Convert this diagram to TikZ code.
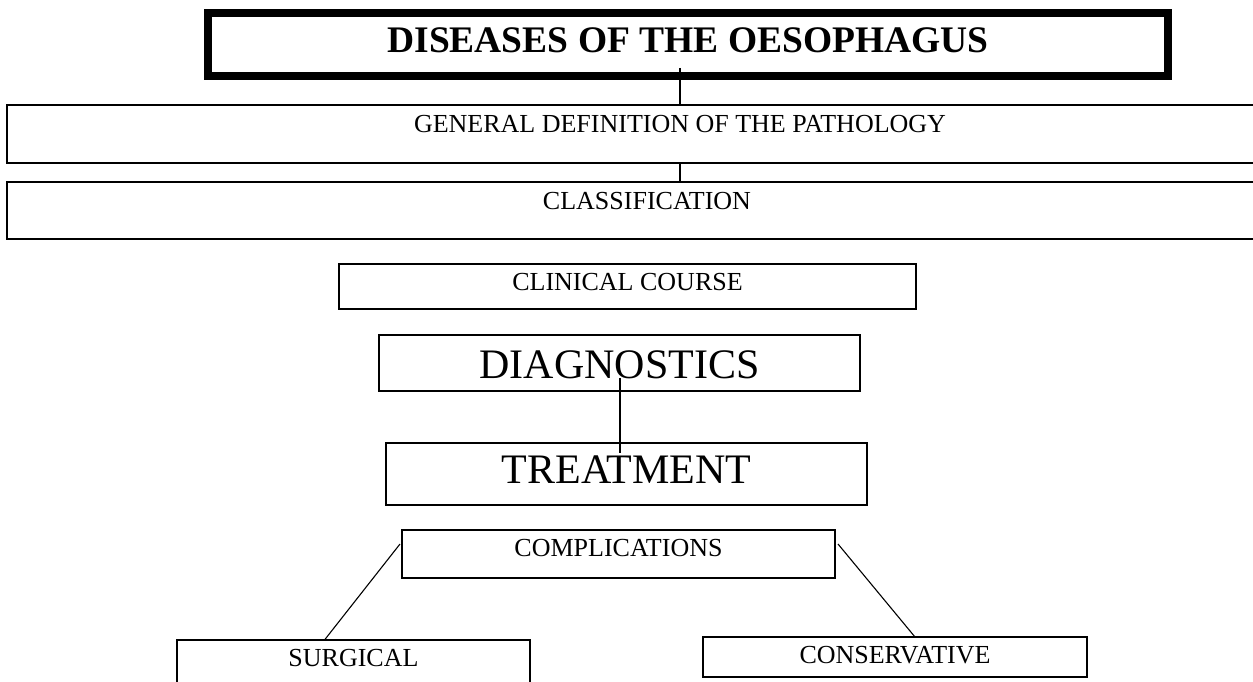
\documentclass[tikz,border=0pt]{standalone}
\usepackage{fontspec}
\setmainfont{Liberation Serif}
\usetikzlibrary{calc}

\tikzset{
  box/.style={draw, rectangle, line width=1.2pt, inner sep=0pt, outer sep=0pt,
    anchor=north west, align=center, font=\fontsize{26}{28}\selectfont},
  bigbox/.style={box, font=\fontsize{42}{44}\selectfont},
  titlebox/.style={box, line width=8pt, font=\fontsize{37.5}{40}\selectfont\bfseries},
  link/.style={draw, line width=1.1pt}
}

\begin{document}
\begin{tikzpicture}[x=1pt, y=-1pt]
  \useasboundingbox (0,0) rectangle (1253,682);

  % title
  \node[titlebox, minimum width=960, text height=40, text depth=23] (title) at (208,13)
    {DISEASES OF THE OESOPHAGUS};

  % wide bands running off the right edge
  \node[box, minimum width=1346, text height=27, text depth=31] (gen) at (7,105)
    {GENERAL DEFINITION OF THE PATHOLOGY};
  \node[box, minimum width=1280, text height=27, text depth=30] (cls) at (7,182)
    {CLASSIFICATION};

  % central column
  \node[box, minimum width=577, text height=26, text depth=19] (clin) at (339,264)
    {CLINICAL COURSE};
  \node[bigbox, minimum width=481, text height=43, text depth=13] (diag) at (379,335)
    {DIAGNOSTICS};
  \node[bigbox, minimum width=481, text height=40, text depth=22] (treat) at (386,443)
    {TREATMENT};
  \node[box, minimum width=433, text height=26, text depth=22] (comp) at (402,530)
    {COMPLICATIONS};

  % bottom branches
  \node[box, minimum width=353, text height=26, text depth=60] (surg) at (177,640)
    {SURGICAL};
  \node[box, minimum width=384, text height=26, text depth=14] (cons) at (703,637)
    {CONSERVATIVE};

  % connectors
  \draw[link] ([xshift=-8pt, yshift=8pt]title.south) -- (gen.north);
  \draw[link] (gen.south) -- (gen.south |- cls.north);
  \draw[link] ([xshift=0.5pt, yshift=13pt]diag.south) -- ([xshift=-6.5pt, yshift=-10pt]treat.north);
  \draw[link] ([xshift=-2pt, yshift=-14pt]comp.north west) -- ([xshift=-29pt]surg.north);
  \draw[link] ([xshift=3pt, yshift=-14pt]comp.north east) -- ([xshift=20pt]cons.north);
\end{tikzpicture}
\end{document}
